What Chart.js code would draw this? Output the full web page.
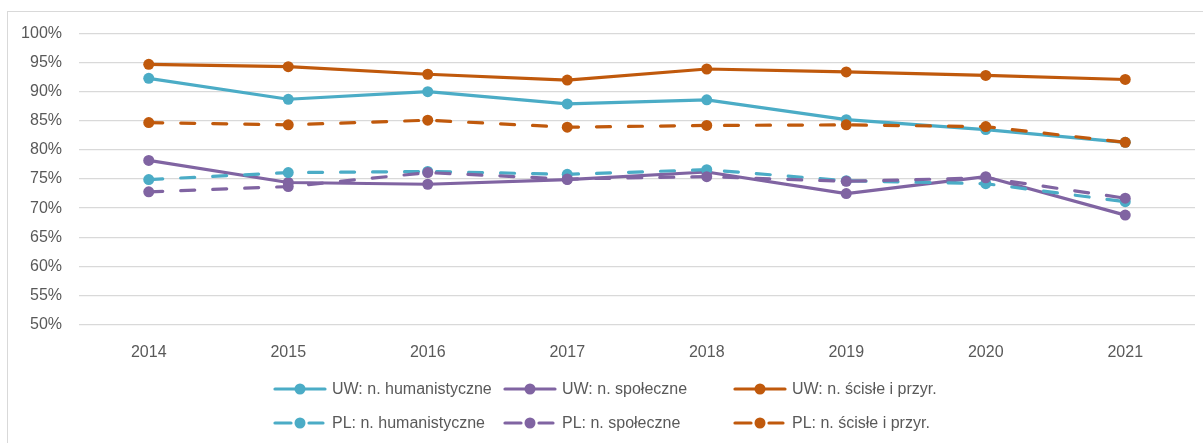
<!DOCTYPE html>
<html>
<head>
<meta charset="utf-8">
<script src="https://cdn.jsdelivr.net/npm/chart.js@4"></script>
<style>
  html, body { margin:0; padding:0; background:#fff; }
  #wrap { position:relative; width:1203px; height:443px; overflow:hidden; font-family:"Liberation Sans", Arial, sans-serif; }
  #frame { position:absolute; left:7px; top:11px; width:1300px; height:500px; border-left:1px solid #d9d9d9; border-top:1px solid #d9d9d9; }
  #chart { position:absolute; left:0; top:0; }
  .leg { position:absolute; display:flex; align-items:center; font-size:16px; color:#595959; white-space:nowrap; }
  .leg svg { margin-right:5px; }
</style>
</head>
<body>
<div id="wrap">
  <div id="frame"></div>
  <canvas id="chart" width="1203" height="443"></canvas>
  <div id="legend"></div>
</div>
<script>
/* ── data ─────────────────────────────────────────── */
const years   = ["2014","2015","2016","2017","2018","2019","2020","2021"];
const yTicks  = [50, 55, 60, 65, 70, 75, 80, 85, 90, 95, 100];

const uwHum   = [92.3, 88.7, 90.0, 87.9, 88.6, 85.2, 83.5, 81.3];
const uwSpol  = [78.2, 74.4, 74.1, 74.9, 76.2, 72.5, 75.4, 68.8];
const uwScis  = [94.7, 94.3, 93.0, 92.0, 93.9, 93.4, 92.8, 92.1];
const plHum   = [74.9, 76.1, 76.3, 75.8, 76.6, 74.7, 74.2, 71.1];
const plSpol  = [72.8, 73.7, 76.1, 75.0, 75.4, 74.6, 75.2, 71.7];
const plScis  = [84.7, 84.3, 85.1, 83.9, 84.2, 84.3, 84.0, 81.3];

const TEAL = "#4BACC6", PURPLE = "#8064A2", ORANGE = "#C0590C";
const DASH = [14, 18];

const series = [
  { label:"UW: n. humanistyczne", data:uwHum,  color:TEAL,   dashed:false },
  { label:"UW: n. społeczne",     data:uwSpol, color:PURPLE, dashed:false },
  { label:"UW: n. ścisłe i przyr.", data:uwScis, color:ORANGE, dashed:false },
  { label:"PL: n. humanistyczne", data:plHum,  color:TEAL,   dashed:true },
  { label:"PL: n. społeczne",     data:plSpol, color:PURPLE, dashed:true },
  { label:"PL: n. ścisłe i przyr.", data:plScis, color:ORANGE, dashed:true }
];

const font = { family:"Liberation Sans", size:16 };

new Chart(document.getElementById("chart"), {
  type: "line",
  data: {
    labels: years,
    datasets: series.map((s, i) => ({
      label: s.label,
      data: s.data,
      borderColor: s.color,
      backgroundColor: s.color,
      borderWidth: 3.2,
      borderDash: s.dashed ? DASH : [],
      borderCapStyle: "round",
      borderJoinStyle: "round",
      pointRadius: 5.5,
      pointHoverRadius: 5.5,
      pointBorderWidth: 0,
      tension: 0,
      order: series.length - i   // later series drawn on top, like Excel
    }))
  },
  options: {
    responsive: false,
    animation: false,
    layout: { padding: { left:0, top:33.5, right:8, bottom:0 } },
    plugins: { legend:{ display:false }, tooltip:{ enabled:false } },
    scales: {
      x: {
        offset: true,
        grid: { display:false, drawTicks:false },
        border: { display:false },
        ticks: { color:"#595959", font, padding:18 },
        afterFit: a => { a.height = 118.5; }
      },
      y: {
        min: 50, max: 100,
        afterBuildTicks: a => { a.ticks = yTicks.map(v => ({ value:v })); },
        grid: { color:"#d9d9d9", lineWidth:1.3, drawTicks:false },
        border: { display:false },
        ticks: { color:"#595959", font, padding:17, callback: v => v + "%" },
        afterFit: a => { a.width = 79; }
      }
    }
  }
});

/* ── legend (Excel-style, 3 columns x 2 rows) ───────── */
const legendEl = document.getElementById("legend");
const colX = [273, 503, 733];
const rowY = [389, 423];
series.forEach((s, i) => {
  const col = i % 3, row = Math.floor(i / 3);
  const line = s.dashed
    ? `<line x1="2" y1="6" x2="18" y2="6" stroke="${s.color}" stroke-width="3.2" stroke-linecap="round"/>
       <line x1="36" y1="6" x2="50" y2="6" stroke="${s.color}" stroke-width="3.2" stroke-linecap="round"/>`
    : `<line x1="2" y1="6" x2="52" y2="6" stroke="${s.color}" stroke-width="3.2" stroke-linecap="round"/>`;
  const item = document.createElement("div");
  item.className = "leg";
  item.style.left = colX[col] + "px";
  item.style.top = (rowY[row] - 10) + "px";
  item.style.height = "20px";
  item.innerHTML = `<svg width="54" height="12">${line}<circle cx="27" cy="6" r="5.5" fill="${s.color}"/></svg><span>${s.label}</span>`;
  legendEl.appendChild(item);
});
</script>
</body>
</html>
